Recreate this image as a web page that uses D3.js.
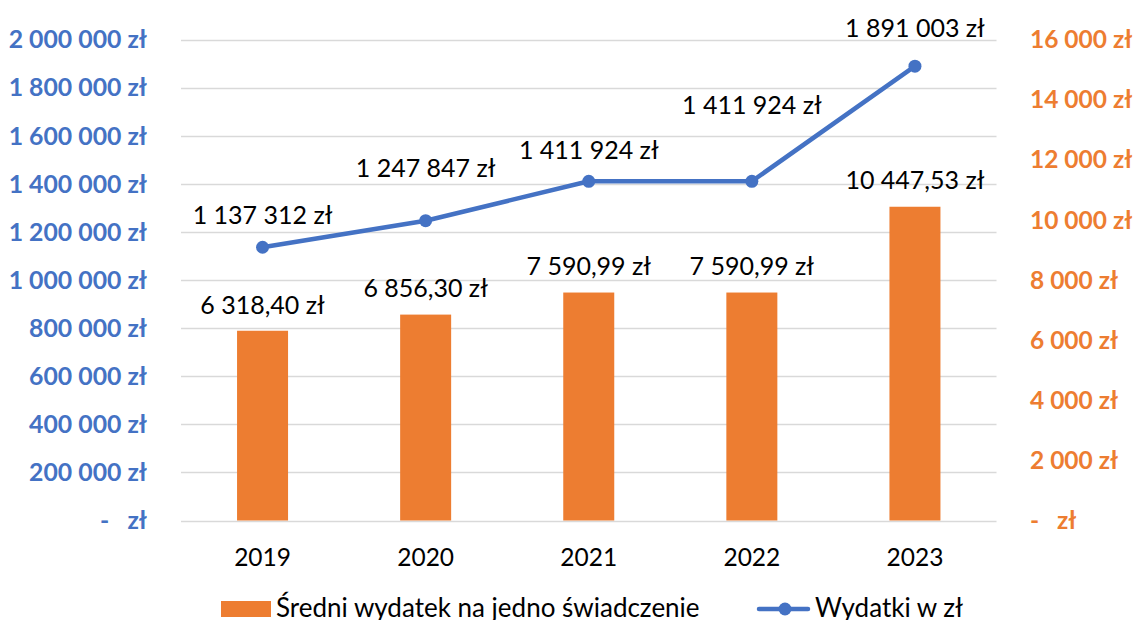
<!DOCTYPE html>
<html><head><meta charset="utf-8">
<script src="https://cdn.jsdelivr.net/npm/d3@7"></script>
<style>body{margin:0;background:#fff;}svg{display:block;font-family:Lato, "Open Sans", sans-serif;}</style>
</head><body>
<svg id="c" width="1137" height="620"></svg>
<script>
const years = ["2019","2020","2021","2022","2023"];
const avgBenefit = [6318.40, 6856.30, 7590.99, 7590.99, 10447.53];
const expenses = [1137312, 1247847, 1411924, 1411924, 1891003];
const leftTicks = [0,200000,400000,600000,800000,1000000,1200000,1400000,1600000,1800000,2000000];
const rightTicks = [0,2000,4000,6000,8000,10000,12000,14000,16000];
const seriesNames = ["Średni wydatek na jedno świadczenie","Wydatki w zł"];
// label vertical offsets above line points (layout)
const lineLabelOffset = [32, 52, 31, 76, 38];

const blue = "#4472C4", orange = "#ED7D31";
const svg = d3.select("#c");
const m = {l:181, r:996.5, t:40, b:520.5};
const x = d3.scaleBand().domain(years).range([m.l, m.r]).paddingInner(0).paddingOuter(0);
const yL = d3.scaleLinear().domain([0,2000000]).range([m.b, m.t]);
const yR = d3.scaleLinear().domain([0,16000]).range([m.b, m.t]);

const grp = n => d3.format(",")(n).replace(/,/g, "\u00A0");
const fmtL = v => v === 0 ? "-\u00A0\u00A0\u00A0zł" : grp(v) + " zł";
const fmtBar = v => {
  const parts = v.toFixed(2).split(".");
  return grp(+parts[0]) + "," + parts[1] + " zł";
};

// gridlines
svg.append("g").selectAll("line").data(leftTicks).join("line")
  .attr("x1", m.l).attr("x2", m.r)
  .attr("y1", d => Math.round(yL(d))+0.5).attr("y2", d => Math.round(yL(d))+0.5)
  .attr("stroke", "#D9D9D9").attr("stroke-width", 1.3);

// left axis
const axL = d3.axisLeft(yL).tickValues(leftTicks).tickFormat(fmtL).tickSize(0).tickPadding(0);
const gL = svg.append("g").attr("transform", "translate(147,0)").call(axL);
gL.select(".domain").remove();
gL.selectAll("text").attr("fill", blue).attr("font-size", 24.8).attr("font-weight", "bold")
  .attr("font-family", "Lato, sans-serif");

// right axis
const axR = d3.axisRight(yR).tickValues(rightTicks).tickFormat(fmtL).tickSize(0).tickPadding(0);
const gR = svg.append("g").attr("transform", "translate(1030,0)").call(axR);
gR.select(".domain").remove();
gR.selectAll("text").attr("fill", orange).attr("font-size", 24.5).attr("font-weight", "bold")
  .attr("font-family", "Lato, sans-serif");

// x axis
const axX = d3.axisBottom(x).tickSize(0).tickPadding(0);
const gX = svg.append("g").attr("transform", "translate(0,566)").call(axX);
gX.select(".domain").remove();
gX.selectAll("text").attr("y", 0).attr("dy", 0).attr("fill", "#000").attr("font-size", 24.5)
  .attr("font-family", "Lato, sans-serif");

// bars
const bw = 51;
svg.append("g").selectAll("rect").data(avgBenefit).join("rect")
  .attr("x", (d,i) => x(years[i]) + x.bandwidth()/2 - bw/2)
  .attr("width", bw)
  .attr("y", d => yR(d)).attr("height", d => yR(0) - yR(d))
  .attr("fill", orange);

// bar labels
svg.append("g").selectAll("text").data(avgBenefit).join("text")
  .attr("x", (d,i) => x(years[i]) + x.bandwidth()/2)
  .attr("y", d => yR(d) - 26).attr("dy", "0.35em")
  .attr("text-anchor", "middle").attr("font-size", 25).attr("fill", "#000")
  .text(fmtBar);

// line
const line = d3.line().x((d,i) => x(years[i]) + x.bandwidth()/2).y(d => yL(d));
svg.append("path").datum(expenses).attr("d", line)
  .attr("fill", "none").attr("stroke", blue).attr("stroke-width", 4.5).attr("stroke-linejoin", "round");
svg.append("g").selectAll("circle").data(expenses).join("circle")
  .attr("cx", (d,i) => x(years[i]) + x.bandwidth()/2).attr("cy", d => yL(d))
  .attr("r", 6.5).attr("fill", blue);

// line labels
svg.append("g").selectAll("text").data(expenses).join("text")
  .attr("x", (d,i) => x(years[i]) + x.bandwidth()/2)
  .attr("y", (d,i) => yL(d) - lineLabelOffset[i]).attr("dy", "0.35em")
  .attr("text-anchor", "middle").attr("font-size", 25).attr("fill", "#000")
  .text(d => grp(d) + " zł");

// legend
const lg = svg.append("g");
lg.append("rect").attr("x", 221).attr("y", 601).attr("width", 50).attr("height", 16).attr("fill", orange);
lg.append("text").attr("x", 276).attr("y", 617).attr("font-size", 26).attr("fill", "#000").text(seriesNames[0]);
lg.append("line").attr("x1", 759).attr("x2", 808).attr("y1", 609).attr("y2", 609)
  .attr("stroke", blue).attr("stroke-width", 4.5).attr("stroke-linecap", "round");
lg.append("circle").attr("cx", 785).attr("cy", 609).attr("r", 6.5).attr("fill", blue);
lg.append("text").attr("x", 815).attr("y", 617).attr("font-size", 26).attr("fill", "#000").text(seriesNames[1]);
</script>
</body></html>
